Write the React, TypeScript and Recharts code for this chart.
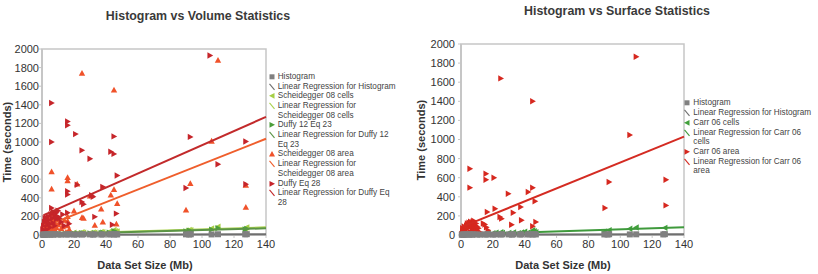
import React from 'react';
import {
  ScatterChart,
  Scatter,
  XAxis,
  YAxis,
  ReferenceArea,
} from 'recharts';

// Dataset size (Mb) vs processing time (s), one list of [size, time] per method

const volHistogram: [number, number][] = [
  [0.5, 3], [1, 5], [1.5, 2], [2, 6], [3, 4], [4, 8], [5, 5], [6, 7], [7, 3], [8, 9],
  [10, 6], [12, 4], [15, 7], [16, 5], [17, 9], [20, 4], [22, 6], [25, 5], [26, 8],
  [30, 6], [32, 4], [33, 7], [37, 5], [38, 6], [42, 6], [43, 8], [45, 5], [46, 9],
  [47, 6], [90, 7], [92, 5], [93, 8], [106, 6], [110, 8], [127, 7], [128, 9],
];

const volSchCells: [number, number][] = [
  [1, 4], [2, 8], [3, 6], [4, 10], [5, 12], [6, 9], [7, 14], [8, 10], [10, 16], [12, 12],
  [15, 18], [16, 22], [17, 15], [20, 24], [22, 20], [25, 30], [26, 26], [30, 22], [32, 28],
  [33, 25], [37, 32], [38, 30], [42, 36], [43, 34], [45, 55], [46, 42], [47, 38], [90, 48],
  [92, 55], [93, 52], [106, 70], [110, 88], [127, 72], [128, 80],
];

const volDuffy12: [number, number][] = [
  [1, 3], [2, 5], [3, 4], [5, 8], [6, 6], [8, 9], [10, 10], [12, 8], [15, 12], [16, 14],
  [20, 15], [22, 18], [25, 20], [26, 16], [30, 18], [33, 20], [37, 22], [38, 24], [42, 26],
  [45, 40], [46, 30], [47, 28], [90, 38], [92, 45], [93, 40], [106, 58], [110, 74],
  [127, 60], [128, 66],
];

const volSchArea: [number, number][] = [
  [0.5, 20], [1, 40], [1, 120], [1.5, 60], [2, 80], [2, 150], [2.5, 40], [3, 20], [3, 60],
  [3.5, 90], [4, 120], [4, 180], [4.5, 50], [5, 30], [5, 100], [6, 60], [6, 150], [6, 495],
  [6, 680], [6.5, 230], [7, 90], [7, 180], [7.5, 140], [8, 60], [8, 130], [8.5, 30], [9, 80],
  [9, 200], [10, 110], [10, 180], [11, 130], [12, 70], [13, 90], [14, 160], [15, 30],
  [16, 100], [16, 150], [16, 200], [16, 585], [16, 620], [17, 60], [20, 260], [22, 548],
  [25, 190], [25, 1740], [26, 180], [30, 420], [33, 105], [37, 280], [38, 140], [43, 430],
  [45, 490], [45, 1560], [46.5, 120], [47, 340], [90, 270], [92.7, 555], [106, 1010],
  [110, 1880], [127.4, 300], [127.4, 535],
];

const volDuffy28: [number, number][] = [
  [0.5, 60], [1, 100], [1.5, 140], [2, 40], [2, 180], [2.5, 190], [3, 60], [3, 150],
  [3.5, 110], [4, 200], [4.5, 160], [5, 80], [5, 120], [5.5, 220], [6, 290], [6, 1000],
  [6, 1420], [6.5, 180], [7, 130], [7, 250], [8, 100], [8, 210], [9, 170], [9, 240],
  [10, 200], [10, 260], [11, 180], [12, 140], [13, 220], [14, 100], [16, 240], [16, 435],
  [16, 470], [16, 1180], [16, 1220], [17, 120], [21, 1085], [22, 540], [25, 355], [25, 910],
  [26, 330], [30, 820], [31, 428], [32, 412], [33, 195], [38, 518], [43, 895], [44, 110],
  [45, 872], [45, 1060], [46.5, 230], [47, 640], [90, 505], [92.7, 1055], [105, 1930],
  [110, 760], [127.4, 545], [127.4, 1005],
];

// fitted trend lines, start and end points
const volHistFit: [number, number][] = [[0, 4], [140, 9]];
const volSchCellsFit: [number, number][] = [[0, 8], [140, 82]];
const volDuffy12Fit: [number, number][] = [[0, 5], [140, 72]];
const volSchAreaFit: [number, number][] = [[1, 87], [140, 1035]];
const volDuffy28Fit: [number, number][] = [[1, 214], [140, 1270]];

const surfHistogram: [number, number][] = [
  [0.5, 3], [1, 4], [1.5, 3], [2, 6], [3, 4], [4, 7], [5, 5], [6, 6], [7, 3], [8, 8],
  [10, 5], [12, 4], [15, 6], [16, 5], [17, 8], [20, 4], [22, 6], [25, 5], [26, 7],
  [30, 6], [32, 4], [33, 7], [37, 5], [38, 6], [42, 6], [43, 7], [45, 5], [46, 9],
  [47, 6], [90, 6], [92, 5], [93, 8], [106, 6], [110, 7], [127, 6], [128, 9],
];

const surfCarrCells: [number, number][] = [
  [1, 5], [2, 10], [3, 8], [5, 12], [6, 15], [7, 10], [10, 8], [15, 12], [16, 20], [17, 18],
  [20, 18], [22, 25], [25, 30], [26, 22], [30, 22], [33, 28], [36, 20], [38, 26], [40, 35],
  [42, 25], [45, 50], [46, 40], [47, 30], [90, 35], [93, 50], [106, 65], [110, 78], [128, 75],
];

const surfCarrArea: [number, number][] = [
  [0.5, 10], [1, 40], [1, 70], [1.5, 30], [2, 15], [2, 90], [2.5, 50], [3, 20], [3, 60],
  [3.5, 100], [4, 30], [4, 120], [4.5, 80], [5, 80], [5, 130], [5.6, 496], [5.6, 694],
  [6, 30], [6, 140], [6.5, 90], [7, 60], [7, 110], [7.5, 140], [8, 70], [8, 150], [8.5, 40],
  [9, 100], [9.5, 120], [10, 50], [10, 90], [11, 70], [12, 30], [14, 120], [15, 110],
  [15.7, 579], [15.7, 642], [16, 80], [16.5, 241], [17, 50], [20.7, 600], [21.4, 275],
  [24.5, 188], [25, 1640], [25.5, 171], [29.7, 432], [31.8, 108], [32.8, 233], [37.5, 293],
  [38, 154], [42.2, 450], [45, 91], [45, 495], [45, 1400], [46.5, 353], [47, 136],
  [90.4, 283], [93, 555], [106, 1047], [110, 1867], [128.7, 310], [128.7, 579],
];

const surfHistFit: [number, number][] = [[0, 4], [140, 8]];
const surfCarrCellsFit: [number, number][] = [[0, 6], [140, 82]];
const surfCarrAreaFit: [number, number][] = [[1, 88], [140, 1030]];

const xTicks = [0, 20, 40, 60, 80, 100, 120, 140];
const yTicks = [0, 200, 400, 600, 800, 1000, 1200, 1400, 1600, 1800, 2000];

const FONT = '"Liberation Sans", Arial, Helvetica, sans-serif';
const AXIS_GRAY = '#c6c6c6';

type Marker = 'square' | 'up' | 'left' | 'right' | 'line';

interface SeriesDef {
  name: string[];
  color: string;
  marker: Marker;
  points: [number, number][];
}

const toXY = (pts: [number, number][]) => pts.map(([x, y]) => ({ x, y }));

function markerShape(kind: Marker, color: string) {
  return (p: any) => {
    const { cx, cy } = p;
    if (cx == null || cy == null) return <g />;
    const s = 3.2;
    if (kind === 'square') {
      return <rect x={cx - 3} y={cy - 3} width={6} height={6} fill={color} />;
    }
    if (kind === 'up') {
      return <path d={`M${cx},${cy - s}L${cx + s},${cy + s * 0.8}L${cx - s},${cy + s * 0.8}Z`} fill={color} />;
    }
    if (kind === 'right') {
      return <path d={`M${cx - s * 0.8},${cy - s}L${cx + s},${cy}L${cx - s * 0.8},${cy + s}Z`} fill={color} />;
    }
    if (kind === 'left') {
      return <path d={`M${cx + s * 0.8},${cy - s}L${cx - s},${cy}L${cx + s * 0.8},${cy + s}Z`} fill={color} />;
    }
    return <g />;
  };
}

function LegendIcon({ kind, color }: { kind: Marker; color: string }) {
  return (
    <svg width={6} height={9.7} style={{ flex: 'none', marginRight: 3 }}>
      {kind === 'square' && <rect x={0.5} y={2.3} width={5} height={5} fill={color} />}
      {kind === 'up' && <path d="M3,2 L6,7.5 L0,7.5Z" fill={color} />}
      {kind === 'right' && <path d="M0.5,2 L6,4.85 L0.5,7.7Z" fill={color} />}
      {kind === 'left' && <path d="M5.5,2 L0,4.85 L5.5,7.7Z" fill={color} />}
      {kind === 'line' && <line x1={0.5} y1={1.8} x2={5.5} y2={7.8} stroke={color} strokeWidth={1.1} />}
    </svg>
  );
}

interface PanelProps {
  left: number;
  width: number;
  yAxisWidth: number;
  tickGap: number;
  plotTop: number;
  plotRight: number;
  title: string;
  titleX: number;
  titleY: number;
  xLabelX: number;
  yLabelX: number;
  legendX: number;
  legendY: number;
  series: SeriesDef[];
}

function Panel(props: PanelProps) {
  const { left, width, yAxisWidth, plotTop, plotRight, series } = props;
  const plotBottom = 235;
  // plotRight is given in page coordinates
  const marginRight = width - (plotRight - left);

  // histogram squares sit along the x axis and are painted over the other marks
  const paintOrder = [
    ...series.filter((s) => s.marker !== 'square'),
    ...series.filter((s) => s.marker === 'square'),
  ];

  return (
    <div style={{ position: 'absolute', left, top: 0, width, height: 274 }}>
      <ScatterChart
        width={width}
        height={274}
        margin={{ top: plotTop, right: marginRight, bottom: 19, left: 0 }}
      >
        <XAxis
          type="number"
          dataKey="x"
          domain={[0, 140]}
          ticks={xTicks}
          height={20}
          axisLine={{ stroke: AXIS_GRAY, strokeWidth: 2 }}
          tickLine={{ stroke: AXIS_GRAY }}
          tickSize={3}
          tickMargin={2}
          tick={{ fill: '#333', fontSize: 11, fontFamily: FONT }}
        />
        <YAxis
          type="number"
          dataKey="y"
          domain={[0, 2000]}
          ticks={yTicks}
          width={yAxisWidth}
          axisLine={{ stroke: AXIS_GRAY, strokeWidth: 2 }}
          tickLine={{ stroke: AXIS_GRAY }}
          tickSize={3}
          tickMargin={props.tickGap}
          tick={{ fill: '#333', fontSize: 11, fontFamily: FONT }}
        />
        <ReferenceArea
          x1={0}
          x2={140}
          y1={0}
          y2={2000}
          fill="none"
          stroke={AXIS_GRAY}
          strokeWidth={1.5}
          ifOverflow="visible"
        />
        {paintOrder.map((s, i) =>
          s.marker === 'line' ? (
            <Scatter
              key={i}
              data={toXY(s.points)}
              line={{ stroke: s.color, strokeWidth: 2 }}
              shape={() => <g />}
              isAnimationActive={false}
            />
          ) : (
            <Scatter
              key={i}
              data={toXY(s.points)}
              fill={s.color}
              shape={markerShape(s.marker, s.color)}
              isAnimationActive={false}
            />
          )
        )}
      </ScatterChart>

      <div
        style={{
          position: 'absolute',
          left: props.titleX - left - 150,
          top: props.titleY - 8,
          width: 300,
          textAlign: 'center',
          fontFamily: FONT,
          fontWeight: 'bold',
          fontSize: 12.4,
          lineHeight: '16px',
          color: '#3a3a3a',
          whiteSpace: 'nowrap',
        }}
      >
        {props.title}
      </div>

      <div
        style={{
          position: 'absolute',
          left: props.xLabelX - left - 100,
          top: 258,
          width: 200,
          textAlign: 'center',
          fontFamily: FONT,
          fontWeight: 'bold',
          fontSize: 11,
          lineHeight: '14px',
          color: '#333',
        }}
      >
        Data Set Size (Mb)
      </div>

      <div
        style={{
          position: 'absolute',
          left: props.yLabelX - left - 60,
          top: (plotTop + plotBottom) / 2 - 7,
          width: 120,
          textAlign: 'center',
          fontFamily: FONT,
          fontWeight: 'bold',
          fontSize: 11,
          lineHeight: '14px',
          color: '#333',
          transform: 'rotate(-90deg)',
        }}
      >
        Time (seconds)
      </div>

      <div
        style={{
          position: 'absolute',
          left: props.legendX - left - 3,
          top: props.legendY - 4.85,
          fontFamily: FONT,
          fontSize: 8.2,
          lineHeight: '9.7px',
          color: '#444',
        }}
      >
        {series.map((s, i) => (
          <div key={i} style={{ display: 'flex', alignItems: 'flex-start' }}>
            <LegendIcon kind={s.marker} color={s.color} />
            <div style={{ whiteSpace: 'nowrap' }}>
              {s.name.map((ln, j) => (
                <div key={j}>{ln}</div>
              ))}
            </div>
          </div>
        ))}
      </div>
    </div>
  );
}

const volumeSeries: SeriesDef[] = [
  { name: ['Histogram'], color: '#808080', marker: 'square', points: volHistogram },
  { name: ['Linear Regression for Histogram'], color: '#6f6f6f', marker: 'line', points: volHistFit },
  { name: ['Scheidegger 08 cells'], color: '#a6cf45', marker: 'left', points: volSchCells },
  { name: ['Linear Regression for', 'Scheidegger 08 cells'], color: '#abd24f', marker: 'line', points: volSchCellsFit },
  { name: ['Duffy 12 Eq 23'], color: '#4c9e3a', marker: 'right', points: volDuffy12 },
  { name: ['Linear Regression for Duffy 12', 'Eq 23'], color: '#5b9446', marker: 'line', points: volDuffy12Fit },
  { name: ['Scheidegger 08 area'], color: '#f0522a', marker: 'up', points: volSchArea },
  { name: ['Linear Regression for', 'Scheidegger 08 area'], color: '#ef5e2c', marker: 'line', points: volSchAreaFit },
  { name: ['Duffy Eq 28'], color: '#c6252a', marker: 'right', points: volDuffy28 },
  { name: ['Linear Regression for Duffy Eq', '28'], color: '#c22a2b', marker: 'line', points: volDuffy28Fit },
];

const surfaceSeries: SeriesDef[] = [
  { name: ['Histogram'], color: '#808080', marker: 'square', points: surfHistogram },
  { name: ['Linear Regression for Histogram'], color: '#6f6f6f', marker: 'line', points: surfHistFit },
  { name: ['Carr 06 cells'], color: '#41a03b', marker: 'left', points: surfCarrCells },
  { name: ['Linear Regression for Carr 06', 'cells'], color: '#3f9a3c', marker: 'line', points: surfCarrCellsFit },
  { name: ['Carr 06 area'], color: '#d6281f', marker: 'right', points: surfCarrArea },
  { name: ['Linear Regression for Carr 06', 'area'], color: '#d42b22', marker: 'line', points: surfCarrAreaFit },
];

export default function App() {
  return (
    <div
      style={{
        position: 'absolute',
        left: 0,
        top: 0,
        width: 818,
        height: 274,
        background: '#fff',
        overflow: 'hidden',
      }}
    >
      <Panel
        left={0}
        width={410}
        yAxisWidth={42}
        tickGap={0}
        plotTop={49}
        plotRight={266}
        title="Histogram vs Volume Statistics"
        titleX={198}
        titleY={16}
        xLabelX={145}
        yLabelX={7}
        legendX={271.7}
        legendY={76.7}
        series={volumeSeries}
      />
      <Panel
        left={410}
        width={408}
        yAxisWidth={51}
        tickGap={3}
        plotTop={44}
        plotRight={684}
        title="Histogram vs Surface Statistics"
        titleX={617}
        titleY={11}
        xLabelX={563}
        yLabelX={421}
        legendX={687.3}
        legendY={103.3}
        series={surfaceSeries}
      />
    </div>
  );
}
